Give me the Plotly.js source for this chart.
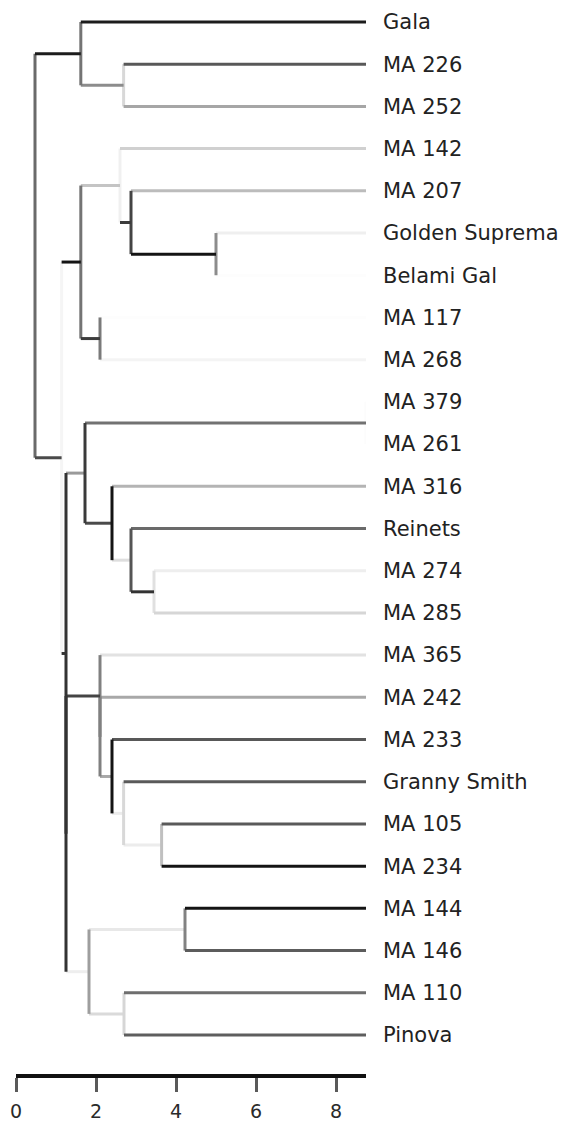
<!DOCTYPE html>
<html>
<head>
<meta charset="utf-8">
<script src="https://cdn.plot.ly/plotly-3.0.1.min.js"></script>
<style>
  html, body { margin: 0; padding: 0; background: #ffffff; }
  #chart { width: 563px; height: 1126px; }
</style>
</head>
<body>
<div id="chart"></div>
<script>
// Leaf order, top to bottom
const cultivars = [
  'Gala', 'MA 226', 'MA 252', 'MA 142', 'MA 207', 'Golden Suprema', 'Belami Gal',
  'MA 117', 'MA 268', 'MA 379', 'MA 261', 'MA 316', 'Reinets', 'MA 274', 'MA 285',
  'MA 365', 'MA 242', 'MA 233', 'Granny Smith', 'MA 105', 'MA 234', 'MA 144',
  'MA 146', 'MA 110', 'Pinova'
];

// Level shared by all leaves on the scale
const leafLevel = 8.75;

// Clusters, children listed before their parents
const clusterIds = [
  'k1', 'k2', 'k3', 'k4', 'k5', 'k6', 'k7', 'k8', 'k9', 'k10', 'k11', 'k12',
  'k13', 'k14', 'k15', 'k16', 'k17', 'k18', 'k19', 'k20', 'k21', 'k22', 'k23', 'k24'
];
const clusterLevels = [
  2.69, 1.62, 5.0, 2.875, 2.6, 2.1, 1.62, 8.75, 3.45, 2.875, 2.4, 1.725,
  3.64, 2.69, 2.4, 2.1, 2.1, 4.225, 2.7, 1.825, 1.25, 1.25, 1.14, 0.475
];
const clusterMembers = [
  ['MA 226', 'MA 252'],          // k1
  ['Gala', 'k1'],                // k2
  ['Golden Suprema', 'Belami Gal'], // k3
  ['MA 207', 'k3'],              // k4
  ['MA 142', 'k4'],              // k5
  ['MA 117', 'MA 268'],          // k6
  ['k5', 'k6'],                  // k7
  ['MA 379', 'MA 261'],          // k8
  ['MA 274', 'MA 285'],          // k9
  ['Reinets', 'k9'],             // k10
  ['MA 316', 'k10'],             // k11
  ['k8', 'k11'],                 // k12
  ['MA 105', 'MA 234'],          // k13
  ['Granny Smith', 'k13'],       // k14
  ['MA 233', 'k14'],             // k15
  ['MA 242', 'k15'],             // k16
  ['MA 365', 'k16'],             // k17
  ['MA 144', 'MA 146'],          // k18
  ['MA 110', 'Pinova'],          // k19
  ['k18', 'k19'],                // k20
  ['k17', 'k20'],                // k21
  ['k12', 'k21'],                // k22
  ['k7', 'k22'],                 // k23
  ['k2', 'k23']                  // k24 (root)
];

const scaleTicks = [0, 2, 4, 6, 8];

// Stroke shade of the horizontal branch leading into each leaf / cluster
const stemShade = {
  'k2': '#1c1c1c', 'Gala': '#1c1c1c', 'k1': '#8c8c8c', 'MA 226': '#585858', 'MA 252': '#a6a6a6',
  'k23': '#4a4a4a', 'k7': '#141414', 'k5': '#c4c4c4', 'MA 142': '#d0d0d0', 'k4': '#3c3c3c',
  'MA 207': '#bcbcbc', 'k3': '#141414', 'Golden Suprema': '#efefef', 'Belami Gal': '#fdfdfd',
  'k6': '#3c3c3c', 'MA 117': '#fdfdfd', 'MA 268': '#f4f4f4', 'k22': '#333333',
  'k12': '#9a9a9a', 'k8': '#727272', 'MA 379': '#fdfdfd', 'MA 261': '#fdfdfd',
  'k11': '#4a4a4a', 'MA 316': '#b4b4b4', 'k10': '#dedede', 'Reinets': '#6a6a6a',
  'k9': '#333333', 'MA 274': '#eeeeee', 'MA 285': '#d6d6d6', 'k21': '#333333',
  'k17': '#444444', 'MA 365': '#e2e2e2', 'k16': '#444444', 'MA 242': '#a8a8a8',
  'k15': '#a8a8a8', 'MA 233': '#585858', 'k14': '#ececec', 'Granny Smith': '#5a5a5a',
  'k13': '#ececec', 'MA 105': '#5a5a5a', 'MA 234': '#141414', 'k20': '#eeeeee',
  'k18': '#e8e8e8', 'MA 144': '#141414', 'MA 146': '#5c5c5c', 'k19': '#dadada',
  'MA 110': '#6e6e6e', 'Pinova': '#5e5e5e'
};
// Stroke shade of the vertical bar joining each cluster's members
const barShade = {
  'k24': '#6a6a6a', 'k2': '#747474', 'k1': '#d8d8d8', 'k23': '#f5f5f5', 'k7': '#747474',
  'k5': '#f0f0f0', 'k4': '#444444', 'k3': '#8c8c8c', 'k6': '#7a7a7a', 'k22': '#333333',
  'k21': '#333333', 'k12': '#3a3a3a', 'k8': '#fcfcfc', 'k11': '#141414', 'k10': '#555555',
  'k9': '#e0e0e0', 'k17': '#808080', 'k16': '#808080', 'k15': '#141414', 'k14': '#d8d8d8',
  'k13': '#c0c0c0', 'k20': '#9e9e9e', 'k18': '#828282', 'k19': '#d6d6d6'
};

// ---- layout of the tree ----
const pos = {};
cultivars.forEach((name, i) => { pos[name] = { x: leafLevel, y: i }; });
clusterIds.forEach((id, i) => {
  const [a, b] = clusterMembers[i];
  pos[id] = { x: clusterLevels[i], y: (pos[a].y + pos[b].y) / 2 };
});

// collect segments grouped by shade
const groups = {};
function addSeg(shade, x0, y0, x1, y1) {
  if (!groups[shade]) groups[shade] = { x: [], y: [] };
  const g = groups[shade];
  g.x.push(x0, x1, null);
  g.y.push(y0, y1, null);
}
clusterIds.forEach((id, i) => {
  const node = pos[id];
  const [a, b] = clusterMembers[i];
  addSeg(barShade[id] || '#666666', node.x, pos[a].y, node.x, pos[b].y);
  [a, b].forEach(child => {
    const c = pos[child];
    if (c.x !== node.x) addSeg(stemShade[child] || '#666666', node.x, c.y, c.x, c.y);
  });
});

// lighter strokes first so darker ones sit on top
const lum = h => parseInt(h.slice(1, 3), 16);
const traces = Object.keys(groups)
  .sort((p, q) => lum(q) - lum(p))
  .map(shade => ({
    type: 'scatter',
    mode: 'lines',
    x: groups[shade].x,
    y: groups[shade].y,
    line: { color: shade, width: 3 },
    hoverinfo: 'skip',
    showlegend: false,
    cliponaxis: false
  }));

const font = 'DejaVu Sans, Liberation Sans, Arial, sans-serif';
const layout = {
  width: 563,
  height: 1126,
  margin: { l: 16, r: 197, t: 0, b: 52, pad: 0 },
  paper_bgcolor: '#ffffff',
  plot_bgcolor: '#ffffff',
  showlegend: false,
  xaxis: {
    range: [0, leafLevel],
    tickvals: scaleTicks,
    ticktext: scaleTicks.map(String),
    ticks: 'outside',
    ticklen: 14,
    tickwidth: 3,
    tickcolor: '#5a5a5a',
    ticklabelstandoff: 3,
    showline: true,
    linecolor: '#111111',
    linewidth: 4,
    showgrid: false,
    zeroline: false,
    tickfont: { family: font, size: 19, color: '#2a2a2a' },
    fixedrange: true
  },
  yaxis: {
    range: [24.924, -0.521],
    side: 'right',
    tickvals: cultivars.map((_, i) => i),
    ticktext: cultivars,
    ticks: '',
    ticklabelstandoff: 16,
    showline: false,
    showgrid: false,
    zeroline: false,
    tickfont: { family: font, size: 21, color: '#222222' },
    fixedrange: true
  }
};

Plotly.newPlot('chart', traces, layout, { staticPlot: true, displayModeBar: false });
</script>
</body>
</html>
